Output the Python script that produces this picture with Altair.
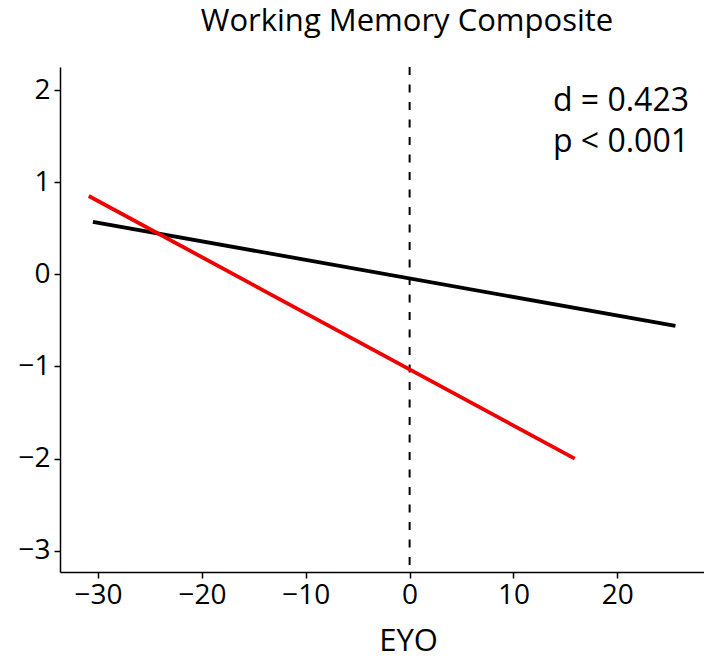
import altair as alt
import pandas as pd

# Regression lines (endpoints)
black_x = [-30.5, 25.6]
black_y = [0.57, -0.56]
red_x = [-30.9, 15.9]
red_y = [0.85, -2.0]

x_ticks = [-30, -20, -10, 0, 10, 20]
y_ticks = [-3, -2, -1, 0, 1, 2]
x_domain = [-33.67, 28.35]
y_domain = [-3.23, 2.25]

annot_text = ["d = 0.423", "p < 0.001"]
annot_x = [13.8, 13.8]
annot_y = [1.88, 1.44]

FONT = "Open Sans"

lines = pd.DataFrame({
    "EYO": black_x + red_x,
    "value": black_y + red_y,
    "group": ["black"] * 2 + ["red"] * 2,
})
annot = pd.DataFrame({"EYO": annot_x, "value": annot_y, "label": annot_text})
vline = pd.DataFrame({"EYO": [0]})

xscale = alt.Scale(domain=x_domain, nice=False, zero=False)
yscale = alt.Scale(domain=y_domain, nice=False, zero=False)

base_line = alt.Chart(lines).mark_line(strokeWidth=3.8, clip=False).encode(
    x=alt.X("EYO:Q", scale=xscale,
            axis=alt.Axis(values=x_ticks, title="EYO", format="d", titleX=348)),
    y=alt.Y("value:Q", scale=yscale,
            axis=alt.Axis(values=y_ticks, title=None, format="d")),
    color=alt.Color("group:N",
                    scale=alt.Scale(domain=["black", "red"], range=["#000000", "#ee0000"]),
                    legend=None),
    detail="group:N",
)

rule = alt.Chart(vline).mark_rule(color="black", strokeWidth=2, strokeDash=[8, 9.5]).encode(
    x=alt.X("EYO:Q", scale=xscale)
)

text = alt.Chart(annot).mark_text(
    align="left", baseline="middle", fontSize=32, font=FONT, color="black"
).encode(
    x=alt.X("EYO:Q", scale=xscale),
    y=alt.Y("value:Q", scale=yscale),
    text="label:N",
)

chart = (rule + base_line + text).properties(
    width=644,
    height=505,
    title=alt.TitleParams(
        "Working Memory Composite", fontSize=31, font=FONT, fontWeight="normal",
        anchor="middle", dx=25, offset=4, color="black", baseline="alphabetic",
    ),
    autosize=alt.AutoSizeParams(type="none"),
    padding={"left": 60, "top": 67, "right": 0, "bottom": 88},
).configure_view(stroke=None).configure_axis(
    grid=False,
    domainColor="black",
    domainWidth=1.5,
    tickColor="black",
    tickWidth=1.5,
    tickSize=6,
    labelColor="black",
    labelFont=FONT,
    labelFontSize=28,
    titleFont=FONT,
    titleFontSize=31,
    titleFontWeight="normal",
    titleColor="black",
).configure_axisX(labelPadding=3, titlePadding=17).configure_axisY(labelPadding=4)

chart.save("out.html", embed_options={"renderer": "svg", "actions": False})
